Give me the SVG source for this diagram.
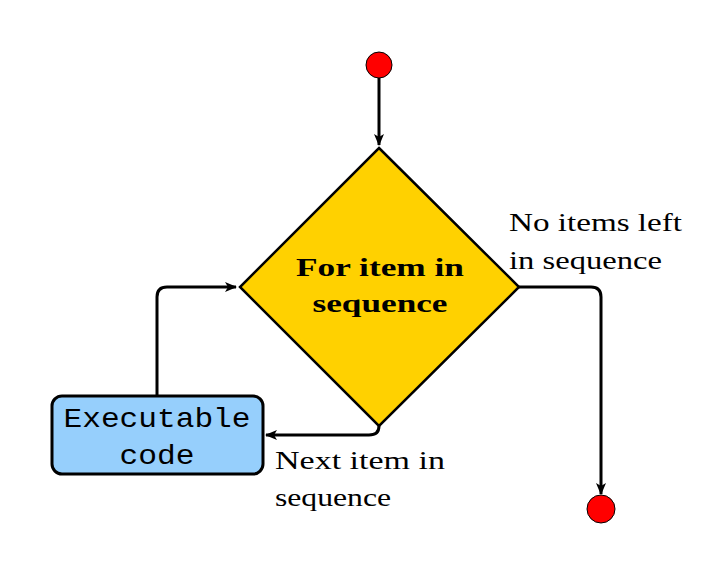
<svg xmlns="http://www.w3.org/2000/svg" width="715" height="580" viewBox="0 0 715 580">
<style>
.conn{fill:none;stroke:#000;stroke-width:3;stroke-linejoin:round}
.lbl{font-family:"Liberation Serif","DejaVu Serif",serif;font-size:26px;fill:#000}
.bold{font-family:"Liberation Serif","DejaVu Serif",serif;font-size:26px;font-weight:bold;fill:#000}
.mono{font-family:"Liberation Mono","DejaVu Sans Mono",monospace;font-size:28px;fill:#000}
.term{fill:#ff0000;stroke:#000;stroke-width:1}
</style>
<defs>
<marker id="arr" viewBox="0 0 12 10" refX="11" refY="5" markerWidth="12" markerHeight="10" markerUnits="userSpaceOnUse" orient="auto">
<path d="M0,0 L12,5 L0,10 L3,5 Z" fill="#000"/>
</marker>
</defs>
<g id="connectors">
<path class="conn" d="M379,78 L379,145" marker-end="url(#arr)"/>
<path class="conn" d="M157,396 L157,297 Q157,287 167,287 L236,287" marker-end="url(#arr)"/>
<path class="conn" d="M379,426 Q379,435 369,435 L266,435" marker-end="url(#arr)"/>
<path class="conn" d="M519,287 L591,287 Q601,287 601,297 L601,494" marker-end="url(#arr)"/>
</g>
<g id="start"><circle class="term" cx="379" cy="65" r="13"/></g>
<g id="loop">
<polygon points="379,148 519,287 379,426 240,287" fill="#ffd100" stroke="#000" stroke-width="2.5" stroke-linejoin="miter"/>
<text class="bold" x="380" y="276" text-anchor="middle" textLength="168" lengthAdjust="spacingAndGlyphs">For item in</text>
<text class="bold" x="380" y="312" text-anchor="middle" textLength="135" lengthAdjust="spacingAndGlyphs">sequence</text>
</g>
<g id="code">
<rect x="52" y="396" width="211" height="78" rx="10" fill="#96cffc" stroke="#000" stroke-width="3"/>
<text class="mono" x="157" y="427" text-anchor="middle" textLength="187" lengthAdjust="spacingAndGlyphs">Executable</text>
<text class="mono" x="157" y="464" text-anchor="middle" textLength="75" lengthAdjust="spacingAndGlyphs">code</text>
</g>
<g id="end"><circle class="term" cx="601" cy="509" r="14"/></g>
<g id="labels">
<text class="lbl" x="509" y="231" textLength="173" lengthAdjust="spacingAndGlyphs">No items left</text>
<text class="lbl" x="509" y="269" textLength="153" lengthAdjust="spacingAndGlyphs">in sequence</text>
<text class="lbl" x="275" y="469" textLength="170" lengthAdjust="spacingAndGlyphs">Next item in</text>
<text class="lbl" x="275" y="506" textLength="116" lengthAdjust="spacingAndGlyphs">sequence</text>
</g>
</svg>
